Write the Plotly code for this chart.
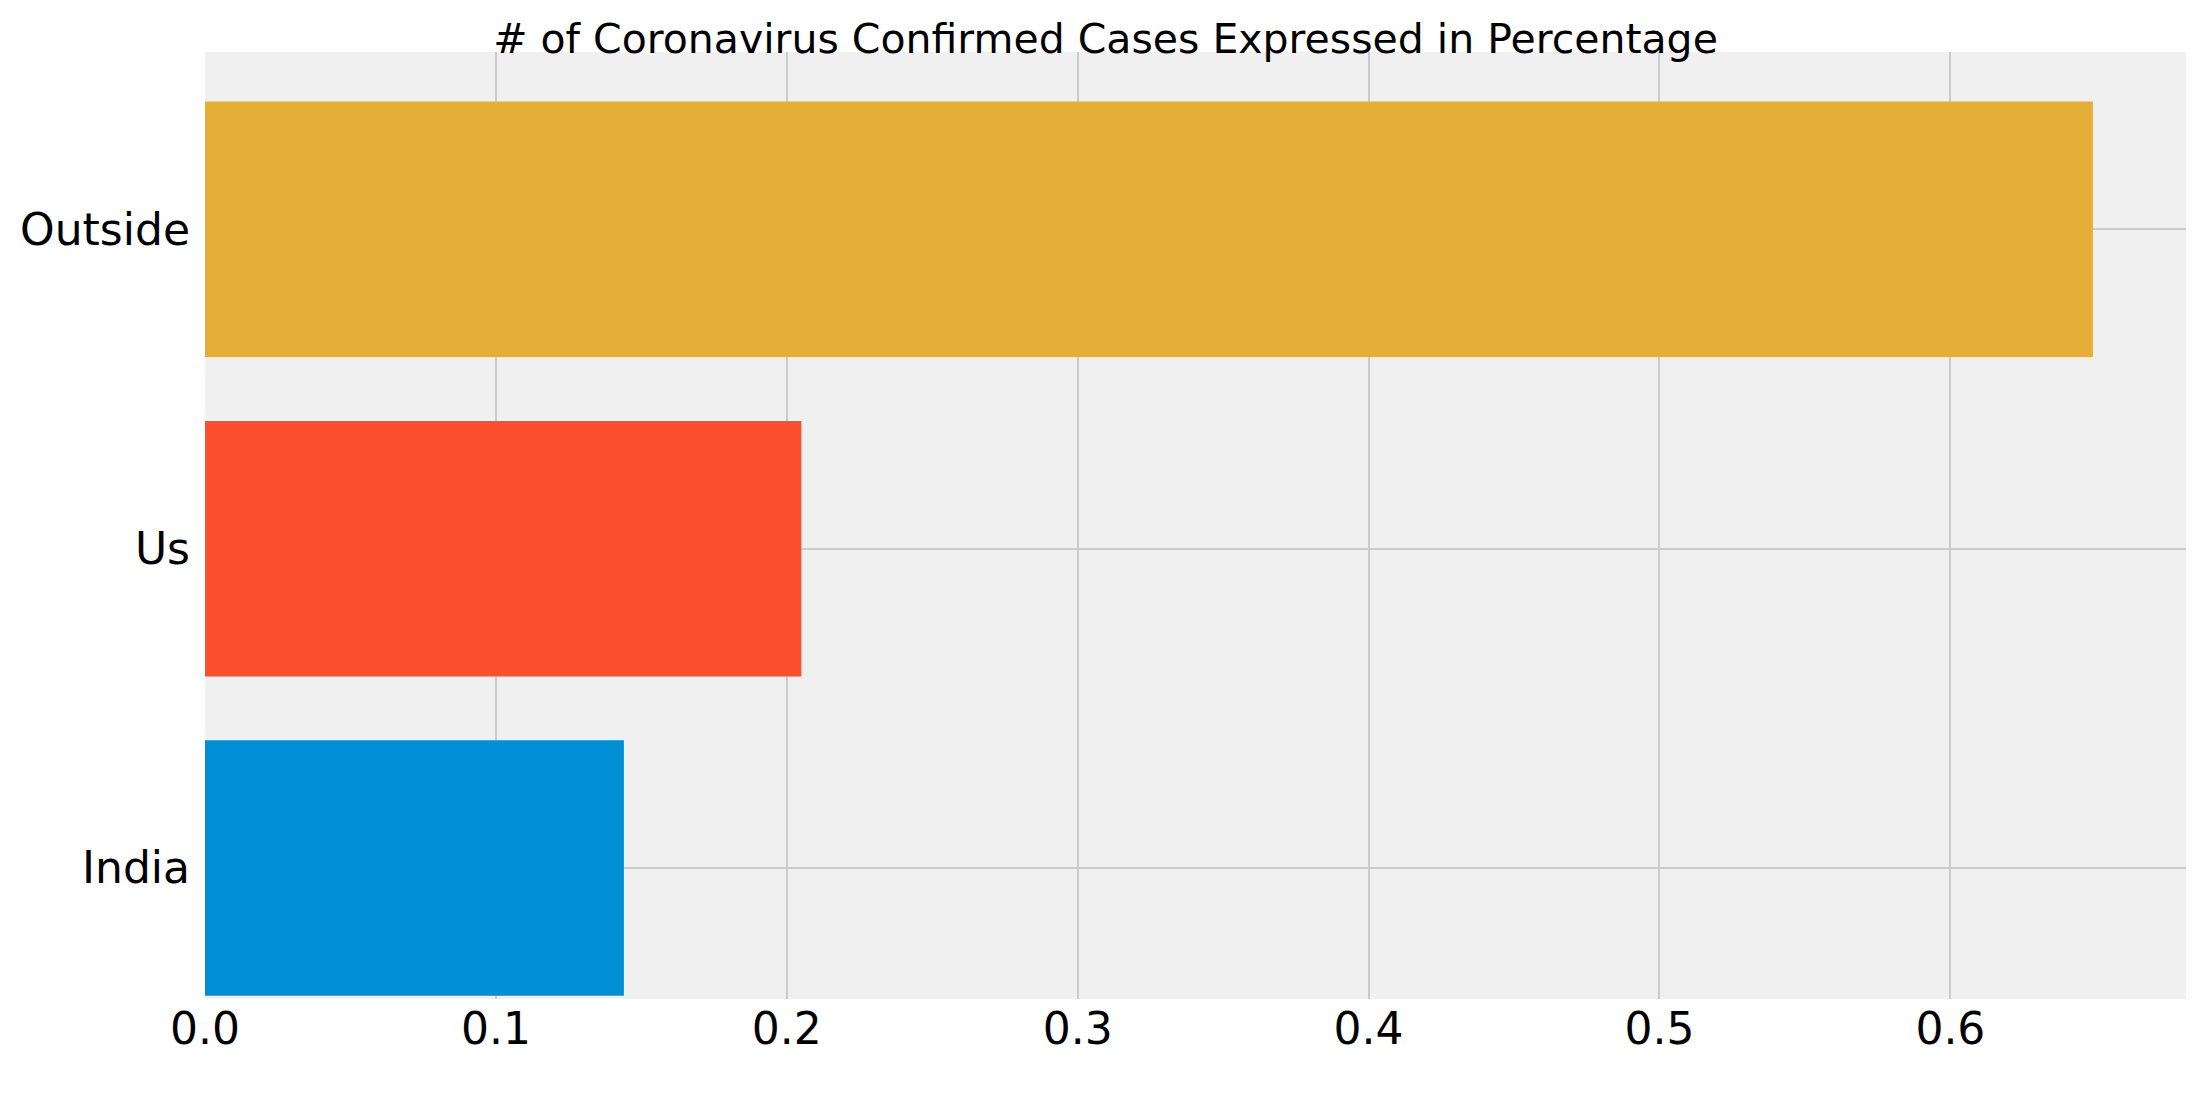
import plotly.graph_objects as go

categories = ["India", "Us", "Outside"]
values = [0.144, 0.205, 0.649]
colors = ["#008fd5", "#fc4f30", "#e5ae38"]

fig = go.Figure()
fig.add_trace(
    go.Bar(
        x=values,
        y=categories,
        orientation="h",
        marker=dict(color=colors, line=dict(width=0)),
        showlegend=False,
    )
)

fig.update_layout(
    title=dict(
        text="# of Coronavirus Confirmed Cases Expressed in Percentage",
        x=0.5, xanchor="center", y=0.972, yanchor="middle",
        font=dict(family="DejaVu Sans", size=41, color="black"),
    ),
    width=2195, height=1097,
    margin=dict(l=172, r=17, t=44, b=106),
    paper_bgcolor="white",
    plot_bgcolor="#f0f0f0",
    bargap=0.2,
    font=dict(family="DejaVu Sans", size=44, color="black"),
    xaxis=dict(
        range=[0, 0.681],
        tickvals=[0, 0.1, 0.2, 0.3, 0.4, 0.5, 0.6],
        ticktext=["0.0", "0.1", "0.2", "0.3", "0.4", "0.5", "0.6"],
        gridcolor="#cbcbcb", gridwidth=1.5, zeroline=False,
        showline=False, ticks="",
    ),
    yaxis=dict(
        range=[-0.41, 2.555],
        gridcolor="#cbcbcb", gridwidth=1.5, zeroline=False,
        showline=False, ticks="", ticksuffix=" ",
    ),
)

fig.write_html("out.html")
